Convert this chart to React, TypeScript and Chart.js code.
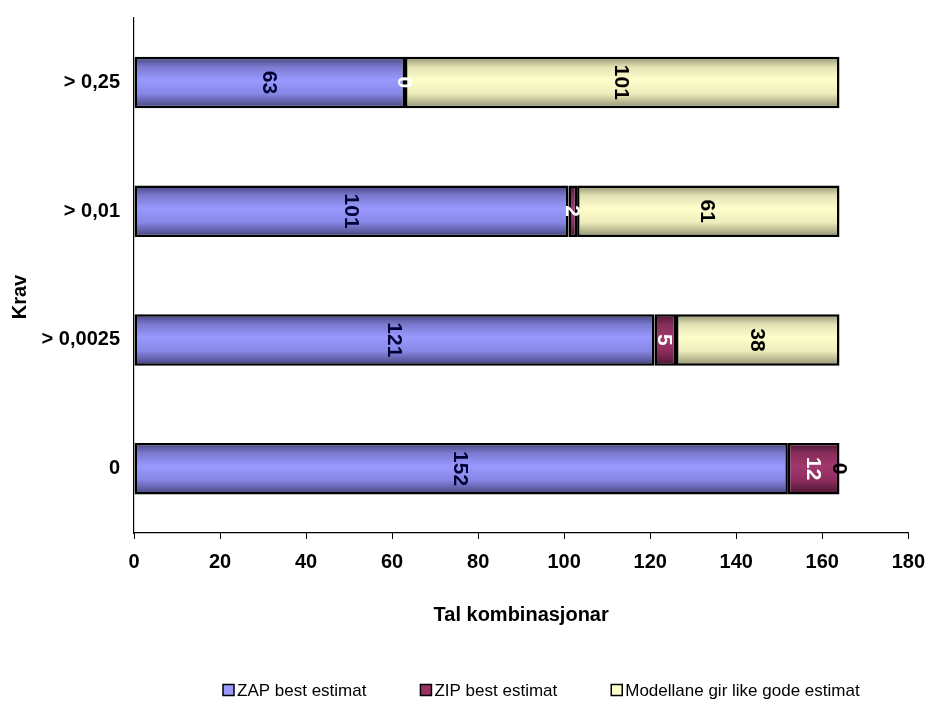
import React, { useEffect, useRef } from "react";
import { Chart, registerables } from "chart.js";

Chart.register(...registerables);

// Requirement levels (top to bottom) and how many combinations fall in each outcome
const categories = ["> 0,25", "> 0,01", "> 0,0025", "0"];
const zapBest = [63, 101, 121, 152];
const zipBest = [0, 2, 5, 12];
const equallyGood = [101, 61, 38, 0];
const seriesNames = ["ZAP best estimat", "ZIP best estimat", "Modellane gir like gode estimat"];

const xMin = 0;
const xMax = 180;
const xStep = 20;
const xTitle = "Tal kombinasjonar";
const yTitle = "Krav";

const FONT = "'Liberation Sans', Arial, sans-serif";

// Shading for each series: dark edges, light middle (a cylinder-like bar)
const shades = [
  ["#42427a", "#7a7ad0", "#9999ff", "#8787e6", "#42427a"],
  ["#4a1630", "#852c5a", "#a3386d", "#8e2d5f", "#4a1630"],
  ["#8f8f70", "#e2e2b4", "#ffffcc", "#ececbc", "#8f8f70"],
];
const swatch = ["#9999ff", "#993366", "#ffffcc"];
const labelColors = ["#000033", "#ffffff", "#000000"];

const BAR_PCT = 0.4;

function gradientFor(series: number) {
  return (ctx: any) => {
    const chart = ctx.chart;
    const y = chart.scales?.y;
    if (!y || ctx.type !== "data" || !chart.chartArea) return swatch[series];
    const cy = y.getPixelForValue(ctx.dataIndex);
    const half = ((y.height / categories.length) * BAR_PCT) / 2;
    const g = chart.ctx.createLinearGradient(0, cy - half, 0, cy + half);
    const stops = [0, 0.2, 0.45, 0.72, 1];
    stops.forEach((s, i) => g.addColorStop(s, shades[series][i]));
    return g;
  };
}

// Values written across each segment, turned a quarter clockwise
const segmentLabels = {
  id: "segmentLabels",
  afterDatasetsDraw(chart: any) {
    const ctx = chart.ctx;
    ctx.save();
    ctx.font = `bold 21px ${FONT}`;
    ctx.textAlign = "center";
    ctx.textBaseline = "middle";
    chart.data.datasets.forEach((ds: any, i: number) => {
      const meta = chart.getDatasetMeta(i);
      meta.data.forEach((el: any, j: number) => {
        const cx = (el.x + el.base) / 2;
        ctx.save();
        ctx.translate(cx, el.y);
        ctx.rotate(Math.PI / 2);
        ctx.fillStyle = labelColors[i];
        ctx.fillText(String(ds.data[j]), 0, 1);
        ctx.restore();
      });
    });
    ctx.restore();
  },
};

// Vertical axis title and the legend row underneath the chart
const extras = {
  id: "extras",
  afterDraw(chart: any) {
    const ctx = chart.ctx;
    ctx.save();
    ctx.fillStyle = "#000";
    ctx.font = `bold 20px ${FONT}`;
    ctx.textAlign = "center";
    ctx.textBaseline = "middle";
    ctx.translate(20, 297);
    ctx.rotate(-Math.PI / 2);
    ctx.fillText(yTitle, 0, 0);
    ctx.restore();

    ctx.save();
    ctx.font = `17px ${FONT}`;
    ctx.textBaseline = "middle";
    ctx.textAlign = "left";
    const box = 11;
    const gap = 3;
    const between = 54;
    const y = 690;
    let x = 223;
    seriesNames.forEach((name, i) => {
      ctx.fillStyle = swatch[i];
      ctx.fillRect(x, y - box / 2, box, box);
      ctx.strokeStyle = "#000";
      ctx.lineWidth = 1.5;
      ctx.strokeRect(x, y - box / 2, box, box);
      ctx.fillStyle = "#000";
      ctx.fillText(name, x + box + gap, y + 1);
      x += box + gap + ctx.measureText(name).width + between;
    });
    ctx.restore();
  },
};

export default function App() {
  const canvasRef = useRef<HTMLCanvasElement | null>(null);

  useEffect(() => {
    if (!canvasRef.current) return;
    const series = [zapBest, zipBest, equallyGood];
    const chart = new Chart(canvasRef.current, {
      type: "bar",
      data: {
        labels: categories,
        datasets: series.map((values, i) => ({
          label: seriesNames[i],
          data: values,
          backgroundColor: gradientFor(i),
          borderColor: "#000000",
          // empty segments get no outline
          borderWidth: (ctx: any) => (ctx.raw === 0 ? 0 : 2.5),
          borderSkipped: false,
          categoryPercentage: 1,
          barPercentage: BAR_PCT,
        })),
      },
      options: {
        indexAxis: "y",
        responsive: false,
        animation: false,
        layout: { padding: { top: 17, right: 19, left: 0, bottom: 77 } },
        plugins: {
          legend: { display: false },
          tooltip: { enabled: false },
        },
        scales: {
          x: {
            stacked: true,
            min: xMin,
            max: xMax,
            ticks: {
              stepSize: xStep,
              color: "#000",
              padding: 11,
              font: { family: FONT, size: 20, weight: "bold" },
            },
            grid: {
              drawOnChartArea: false,
              drawTicks: true,
              tickLength: 6,
              color: "#000",
            },
            border: { display: true, color: "#000", width: 1.2 },
            title: {
              display: true,
              text: xTitle,
              color: "#000",
              padding: { top: 0, bottom: 0 },
              font: { family: FONT, size: 20, weight: "bold" },
            },
            afterFit(scale: any) {
              scale.height = 94;
            },
          },
          y: {
            stacked: true,
            ticks: {
              color: "#000",
              padding: 6,
              font: { family: FONT, size: 20, weight: "bold" },
            },
            grid: { display: false },
            border: { display: true, color: "#000", width: 1.2 },
            afterFit(scale: any) {
              scale.width = 134;
            },
          },
        },
      },
      plugins: [segmentLabels, extras],
    });
    return () => chart.destroy();
  }, []);

  return (
    <div style={{ position: "fixed", left: 0, top: 0, width: 936, height: 704, background: "#fff" }}>
      <canvas ref={canvasRef} width={936} height={704} />
    </div>
  );
}
